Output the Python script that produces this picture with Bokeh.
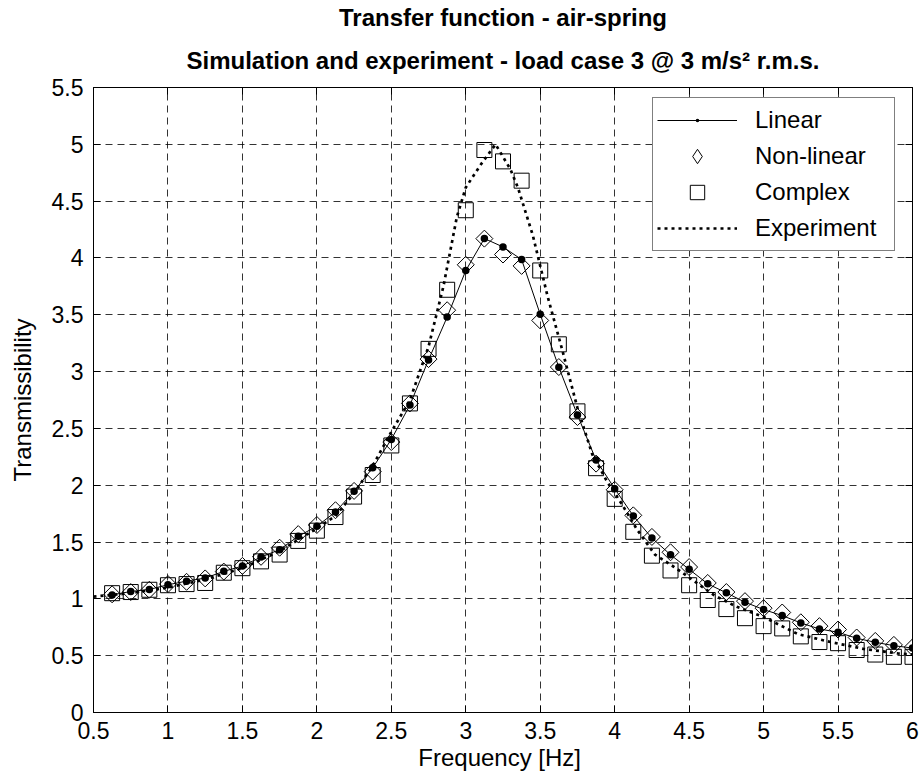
import math
from bokeh.plotting import figure
from bokeh.models import LinearAxis, Title, Legend, LegendItem, FixedTicker, Range1d
from bokeh.embed import file_html
from bokeh.resources import INLINE

# ---------------- data ----------------
freq = [0.625, 0.75, 0.875, 1.0, 1.125, 1.25, 1.375, 1.5, 1.625, 1.75, 1.875, 2.0,
        2.125, 2.25, 2.375, 2.5, 2.625, 2.75, 2.875, 3.0, 3.125, 3.25, 3.375, 3.5,
        3.625, 3.75, 3.875, 4.0, 4.125, 4.25, 4.375, 4.5, 4.625, 4.75, 4.875, 5.0,
        5.125, 5.25, 5.375, 5.5, 5.625, 5.75, 5.875, 6.0]

linear = [1.035, 1.065, 1.083, 1.124, 1.156, 1.183, 1.242, 1.289, 1.368, 1.433, 1.551, 1.639,
          1.765, 1.947, 2.153, 2.403, 2.706, 3.103, 3.48, 3.889, 4.171, 4.097, 3.986, 3.504,
          3.038, 2.618, 2.221, 1.97, 1.73, 1.535, 1.388, 1.26, 1.132, 1.053, 0.971, 0.906,
          0.853, 0.788, 0.735, 0.706, 0.653, 0.618, 0.588, 0.567]

nonlinear = [1.04, 1.06, 1.08, 1.13, 1.15, 1.18, 1.24, 1.29, 1.37, 1.45, 1.57, 1.65,
             1.78, 1.95, 2.12, 2.38, 2.72, 3.11, 3.54, 3.94, 4.17, 4.03, 3.93, 3.45,
             3.04, 2.60, 2.19, 1.96, 1.735, 1.545, 1.41, 1.28, 1.14, 1.06, 0.98, 0.918,
             0.88, 0.794, 0.76, 0.73, 0.66, 0.63, 0.595, 0.573]

complex_model = [1.05, 1.06, 1.08, 1.12, 1.13, 1.14, 1.23, 1.27, 1.33, 1.39, 1.51, 1.60,
                 1.72, 1.90, 2.09, 2.35, 2.72, 3.20, 3.72, 4.42, 4.95, 4.85, 4.68, 3.89,
                 3.24, 2.65, 2.15, 1.88, 1.59, 1.38, 1.25, 1.12, 0.99, 0.91, 0.83, 0.76,
                 0.74, 0.67, 0.62, 0.61, 0.55, 0.51, 0.49, 0.49]

exp_freq = [0.5, 0.75, 1.0, 1.25, 1.5, 1.75, 2.0, 2.125, 2.25, 2.375, 2.5, 2.625, 2.75,
            2.85, 2.94, 3.0, 3.1, 3.2, 3.3, 3.35, 3.45, 3.55, 3.65, 3.75, 3.85, 3.95,
            4.05, 4.15, 4.27, 4.4, 4.53, 4.67, 4.82, 5.0, 5.23, 5.45, 5.67, 5.9, 6.0]
experiment = [1.02, 1.05, 1.10, 1.17, 1.27, 1.42, 1.62, 1.73, 1.93, 2.17, 2.47, 2.75, 3.22,
              3.75, 4.36, 4.62, 4.82, 5.0, 4.78, 4.62, 4.2, 3.66, 3.18, 2.68, 2.27, 2.03,
              1.83, 1.61, 1.39, 1.28, 1.16, 1.03, 0.93, 0.84, 0.69, 0.62, 0.56, 0.52, 0.51]

x_ticks = [0.5, 1, 1.5, 2, 2.5, 3, 3.5, 4, 4.5, 5, 5.5, 6]
x_tick_labels = ["0.5", "1", "1.5", "2", "2.5", "3", "3.5", "4", "4.5", "5", "5.5", "6"]
y_ticks = [0, 0.5, 1, 1.5, 2, 2.5, 3, 3.5, 4, 4.5, 5, 5.5]
y_tick_labels = ["0", "0.5", "1", "1.5", "2", "2.5", "3", "3.5", "4", "4.5", "5", "5.5"]

title_text = "Transfer function - air-spring"
subtitle_text = "Simulation and experiment - load case 3 @ 3 m/s\u00b2 r.m.s."
x_label = "Frequency  [Hz]"
y_label = "Transmissibility"
series_names = ["Linear", "Non-linear", "Complex", "Experiment"]

# ---------------- styling ----------------
FONT = "Liberation Sans"
TICK_FS = "23px"
FS = "24px"

p = figure(width=920, height=778, title=None,
           x_range=Range1d(0.5, 6), y_range=Range1d(0, 5.5),
           output_backend="svg", toolbar_location=None,
           min_border_left=93, min_border_right=8, min_border_top=87, min_border_bottom=66,
           x_axis_label=x_label, y_axis_label=y_label)

p.background_fill_color = "white"
p.border_fill_color = "white"
p.outline_line_color = "black"
p.outline_line_width = 1

xt = FixedTicker(ticks=x_ticks)
yt = FixedTicker(ticks=y_ticks)

xa = p.xaxis[0]
ya = p.yaxis[0]
xa.ticker = xt
ya.ticker = yt
xa.major_label_overrides = {t: s for t, s in zip(x_ticks, x_tick_labels)}
ya.major_label_overrides = {t: s for t, s in zip(y_ticks, y_tick_labels)}
for ax in (xa, ya):
    ax.axis_line_color = "black"
    ax.major_tick_line_color = "black"
    ax.major_tick_in = 7
    ax.major_tick_out = 0
    ax.minor_tick_in = 0
    ax.minor_tick_out = 0
    ax.minor_tick_line_color = None
    ax.major_label_text_font = FONT
    ax.major_label_text_font_size = TICK_FS
    ax.major_label_text_color = "black"
    ax.axis_label_text_font = FONT
    ax.axis_label_text_font_size = FS
    ax.axis_label_text_font_style = "normal"
    ax.axis_label_text_color = "black"
xa.major_label_standoff = 9
xa.axis_label_standoff = 2
ya.major_label_standoff = 10
ya.axis_label_standoff = 13

# box: top and right axes with inward ticks, no labels
top = LinearAxis(ticker=FixedTicker(ticks=x_ticks),
                 major_label_overrides={t: "" for t in x_ticks},
                 major_label_text_font_size="0px", major_label_standoff=0,
                 major_tick_in=7, major_tick_out=0, minor_tick_in=0, minor_tick_out=0,
                 minor_tick_line_color=None,
                 axis_line_color="black", major_tick_line_color="black")
right = LinearAxis(ticker=FixedTicker(ticks=y_ticks),
                   major_label_overrides={t: "" for t in y_ticks},
                   major_label_text_font_size="0px", major_label_standoff=0,
                   major_tick_in=7, major_tick_out=0, minor_tick_in=0, minor_tick_out=0,
                   minor_tick_line_color=None,
                   axis_line_color="black", major_tick_line_color="black")
p.add_layout(top, "above")
p.add_layout(right, "right")

for g in (p.xgrid[0], p.ygrid[0]):
    g.grid_line_color = "black"
    g.grid_line_alpha = 0.8
    g.grid_line_dash = "7 5"
    g.grid_line_width = 1
p.xgrid[0].ticker = xt
p.ygrid[0].ticker = yt

# ---------------- glyphs ----------------
r_lin_line = p.line(freq, linear, line_color="black", line_width=1)
r_lin_dot = p.scatter(freq, linear, marker="dot", size=30, line_color="black",
                      fill_color="black")
r_nl = p.scatter(freq, nonlinear, marker="square", angle=math.pi / 4, size=12,
                 fill_color=None, line_color="black", line_width=1)
# legend swatch for the diamonds (the legend does not rotate markers)
r_nl_key = p.scatter(freq, nonlinear, marker="diamond", size=18, fill_color=None,
                     line_color="black", line_width=1, visible=False)
r_cx = p.scatter(freq, complex_model, marker="square", size=15,
                 fill_color=None, line_color="black", line_width=1)
r_exp = p.line(exp_freq, experiment, line_color="black", line_width=2.7, line_dash="3 4")

legend = Legend(items=[
    LegendItem(label=series_names[0], renderers=[r_lin_line, r_lin_dot]),
    LegendItem(label=series_names[1], renderers=[r_nl_key]),
    LegendItem(label=series_names[2], renderers=[r_cx]),
    LegendItem(label=series_names[3], renderers=[r_exp]),
], location=(559, 461))
legend.border_line_color = "black"
legend.border_line_width = 1
legend.background_fill_color = "white"
legend.background_fill_alpha = 1
legend.inactive_fill_alpha = 0
legend.label_text_font = FONT
legend.label_text_font_size = FS
legend.label_text_color = "black"
legend.glyph_width = 80
legend.glyph_height = 36
legend.label_height = 36
legend.label_width = 135
legend.label_standoff = 18
legend.spacing = -1
legend.padding = 4
legend.margin = 0
p.add_layout(legend)

# ---------------- titles ----------------
sub = Title(text=subtitle_text, align="center", text_font=FONT, text_font_size=FS,
            text_font_style="bold", text_color="black", standoff=28)
main = Title(text=title_text, align="center", text_font=FONT, text_font_size=FS,
             text_font_style="bold", text_color="black", standoff=0)
p.add_layout(sub, "above")
p.add_layout(main, "above")

open("out.html", "w").write(file_html(p, INLINE))
